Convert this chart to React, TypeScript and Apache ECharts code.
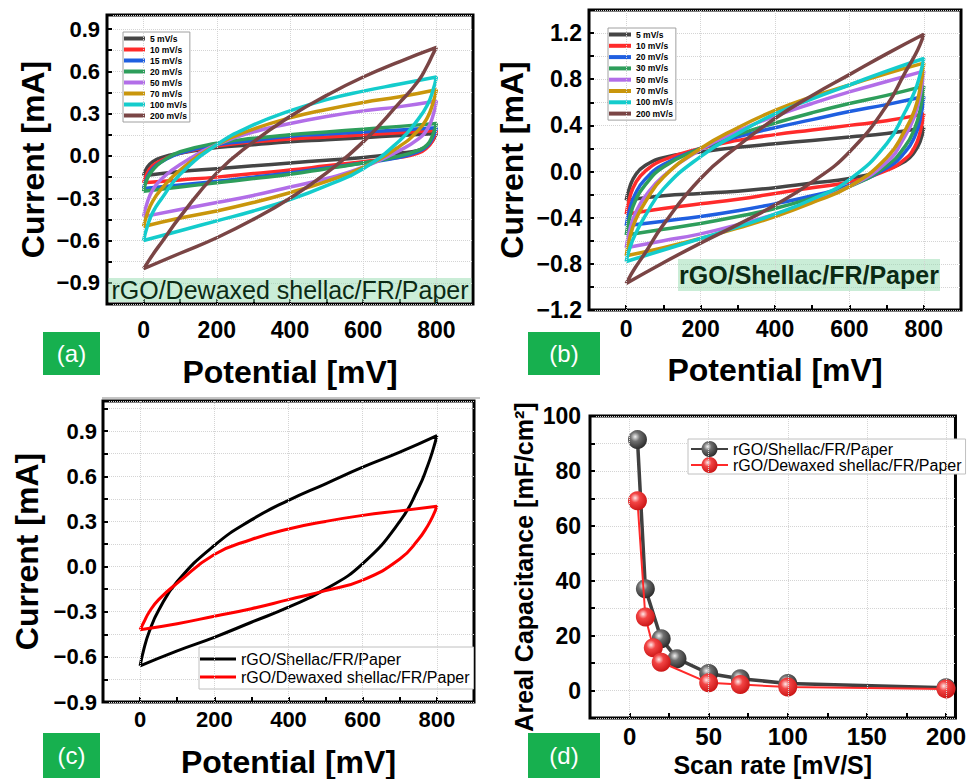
import React, { useEffect, useRef } from 'react';
import * as echarts from 'echarts';

const FONT = '"Liberation Sans", Arial, Helvetica, sans-serif';

// Potential grid for the forward (upper) and reverse (lower) branches of every CV loop [mV]
const X_UP = [0, 10, 25, 50, 100, 200, 300, 400, 500, 600, 700, 800];
const X_DOWN = [800, 790, 775, 750, 700, 600, 500, 400, 300, 200, 100, 0];

// Panel (a): rGO/Dewaxed shellac/FR/Paper
const RATES_A = ['5 mV/s', '10 mV/s', '15 mV/s', '20 mV/s', '50 mV/s', '70 mV/s', '100 mV/s', '200 mV/s'];
const COLORS_A = ['#454545', '#ff2b2b', '#1f5fe0', '#2e9e5b', '#b26ee8', '#c9960c', '#14cccc', '#7a4545'];
const A_UP: number[][] = [
  [-0.14, -0.08, -0.04, -0.01, 0.02, 0.06, 0.08, 0.10, 0.115, 0.13, 0.145, 0.16],
  [-0.19, -0.12, -0.07, -0.03, 0.02, 0.07, 0.10, 0.12, 0.135, 0.15, 0.165, 0.18],
  [-0.23, -0.15, -0.09, -0.04, 0.02, 0.08, 0.11, 0.14, 0.155, 0.17, 0.185, 0.20],
  [-0.25, -0.16, -0.10, -0.04, 0.03, 0.09, 0.125, 0.15, 0.17, 0.19, 0.21, 0.23],
  [-0.43, -0.33, -0.24, -0.16, -0.06, 0.08, 0.17, 0.23, 0.28, 0.32, 0.35, 0.39],
  [-0.50, -0.41, -0.32, -0.23, -0.10, 0.08, 0.19, 0.27, 0.33, 0.38, 0.42, 0.47],
  [-0.60, -0.50, -0.40, -0.30, -0.13, 0.08, 0.22, 0.32, 0.40, 0.46, 0.51, 0.56],
  [-0.80, -0.76, -0.70, -0.61, -0.43, -0.12, 0.10, 0.28, 0.43, 0.56, 0.67, 0.77],
];
const A_DOWN: number[][] = [
  [0.16, 0.11, 0.07, 0.04, 0.02, -0.01, -0.03, -0.05, -0.07, -0.09, -0.11, -0.14],
  [0.18, 0.11, 0.06, 0.02, -0.01, -0.04, -0.07, -0.10, -0.125, -0.15, -0.17, -0.19],
  [0.20, 0.13, 0.07, 0.03, -0.01, -0.05, -0.085, -0.12, -0.15, -0.18, -0.205, -0.23],
  [0.23, 0.15, 0.08, 0.04, 0.0, -0.05, -0.09, -0.13, -0.16, -0.19, -0.22, -0.25],
  [0.39, 0.28, 0.19, 0.12, 0.04, -0.08, -0.16, -0.22, -0.28, -0.33, -0.38, -0.43],
  [0.47, 0.37, 0.27, 0.18, 0.07, -0.08, -0.18, -0.26, -0.33, -0.39, -0.44, -0.50],
  [0.56, 0.46, 0.36, 0.26, 0.11, -0.09, -0.21, -0.31, -0.39, -0.46, -0.53, -0.60],
  [0.77, 0.72, 0.64, 0.53, 0.38, 0.10, -0.12, -0.30, -0.45, -0.58, -0.69, -0.80],
];

// Panel (b): rGO/Shellac/FR/Paper
const RATES_B = ['5 mV/s', '10 mV/s', '20 mV/s', '30 mV/s', '50 mV/s', '70 mV/s', '100 mV/s', '200 mV/s'];
const COLORS_B = ['#454545', '#ff2b2b', '#1f5fe0', '#2e9e5b', '#b26ee8', '#c9960c', '#14cccc', '#7a4545'];
const B_UP: number[][] = [
  [-0.25, -0.13, -0.03, 0.05, 0.12, 0.17, 0.21, 0.24, 0.27, 0.30, 0.33, 0.38],
  [-0.37, -0.22, -0.10, 0.0, 0.10, 0.20, 0.27, 0.32, 0.36, 0.40, 0.44, 0.50],
  [-0.47, -0.32, -0.19, -0.07, 0.06, 0.20, 0.30, 0.38, 0.45, 0.52, 0.58, 0.65],
  [-0.55, -0.39, -0.25, -0.12, 0.04, 0.20, 0.32, 0.42, 0.51, 0.59, 0.66, 0.74],
  [-0.66, -0.50, -0.36, -0.22, -0.04, 0.19, 0.35, 0.48, 0.59, 0.69, 0.78, 0.87],
  [-0.73, -0.57, -0.42, -0.27, -0.05, 0.20, 0.38, 0.53, 0.65, 0.75, 0.85, 0.94],
  [-0.78, -0.66, -0.54, -0.39, -0.15, 0.13, 0.33, 0.50, 0.63, 0.75, 0.87, 0.98],
  [-0.97, -0.91, -0.83, -0.71, -0.46, -0.06, 0.22, 0.46, 0.66, 0.84, 1.02, 1.19],
];
const B_DOWN: number[][] = [
  [0.38, 0.26, 0.17, 0.09, 0.02, -0.06, -0.10, -0.14, -0.17, -0.19, -0.21, -0.25],
  [0.50, 0.34, 0.21, 0.11, 0.01, -0.09, -0.14, -0.19, -0.24, -0.28, -0.32, -0.37],
  [0.65, 0.45, 0.30, 0.17, 0.03, -0.12, -0.21, -0.28, -0.34, -0.39, -0.43, -0.47],
  [0.74, 0.53, 0.37, 0.22, 0.05, -0.13, -0.23, -0.32, -0.39, -0.45, -0.50, -0.55],
  [0.87, 0.66, 0.48, 0.31, 0.08, -0.13, -0.26, -0.37, -0.46, -0.54, -0.60, -0.66],
  [0.94, 0.72, 0.53, 0.36, 0.12, -0.13, -0.27, -0.39, -0.49, -0.58, -0.66, -0.73],
  [0.98, 0.84, 0.69, 0.52, 0.24, -0.07, -0.24, -0.37, -0.48, -0.58, -0.68, -0.78],
  [1.19, 1.10, 1.00, 0.86, 0.57, 0.17, -0.09, -0.29, -0.46, -0.62, -0.79, -0.97],
];

// Panel (c): comparison at one scan rate
const NAMES_C = ['rGO/Shellac/FR/Paper', 'rGO/Dewaxed shellac/FR/Paper'];
const COLORS_C = ['#000000', '#ff0000'];
const C_UP: number[][] = [
  [-0.66, -0.55, -0.43, -0.29, -0.10, 0.14, 0.31, 0.44, 0.55, 0.66, 0.76, 0.87],
  [-0.42, -0.37, -0.30, -0.22, -0.11, 0.08, 0.18, 0.25, 0.30, 0.34, 0.37, 0.40],
];
const C_DOWN: number[][] = [
  [0.87, 0.78, 0.67, 0.52, 0.30, 0.02, -0.15, -0.27, -0.37, -0.47, -0.56, -0.66],
  [0.40, 0.34, 0.27, 0.18, 0.05, -0.09, -0.16, -0.22, -0.28, -0.33, -0.38, -0.42],
];

// Panel (d): areal capacitance vs scan rate
const D_RATE_SHELLAC = [5, 10, 20, 30, 50, 70, 100, 200];
const D_CAP_SHELLAC = [91.4, 37.1, 18.9, 11.6, 6.2, 4.3, 2.6, 1.0];
const D_RATE_DEWAXED = [5, 10, 15, 20, 50, 70, 100, 200];
const D_CAP_DEWAXED = [69.1, 26.8, 15.6, 10.3, 2.8, 2.2, 1.3, 0.6];

const X_MAJOR_CV = [0, 200, 400, 600, 800];
const X_MAJOR_D = [0, 50, 100, 150, 200];

const buildLoop = (up: number[], down: number[]) => [
  ...X_UP.map((x, i) => [x, up[i]]),
  ...X_DOWN.map((x, i) => [x, down[i]]),
];

const signed = (v: number, digits: number) => {
  const r = Math.round(v * 1000) / 1000;
  return (r === 0 ? 0 : r).toFixed(digits).replace('-', '\u2212');
};

const tickStyle = { show: true, inside: true, length: 5, lineStyle: { color: '#000', width: 2 } };
const splitY = { show: true, lineStyle: { color: '#d4d4d4', type: 'dotted', width: 1 } };

const makeXAxis = (gridIndex: number, min: number, max: number, interval: number, show: (v: number) => boolean, labelSize: number, margin: number, name: string, nameSize: number, nameGap: number) => ({
  type: 'value', gridIndex, min, max, interval, position: 'bottom',
  axisLine: { show: false, onZero: false },
  axisTick: tickStyle,
  splitLine: { show: false },
  axisLabel: {
    margin, fontSize: labelSize, fontWeight: 'bold', color: '#000', fontFamily: FONT,
    formatter: (v: number) => (show(v) ? String(Math.round(v)) : ''),
  },
  name, nameLocation: 'middle', nameGap, nameMoveOverlap: false,
  nameTextStyle: { fontSize: nameSize, fontWeight: 'bold', color: '#000', fontFamily: FONT },
});

const makeYAxis = (gridIndex: number, min: number, max: number, interval: number, fmt: (v: number) => string, labelSize: number, margin: number, name: string, nameSize: number, nameGap: number) => ({
  type: 'value', gridIndex, min, max, interval, position: 'left',
  axisLine: { show: false, onZero: false },
  axisTick: tickStyle,
  splitLine: splitY,
  axisLabel: { margin, fontSize: labelSize, fontWeight: 'bold', color: '#000', fontFamily: FONT, formatter: fmt },
  name, nameLocation: 'middle', nameGap, nameRotate: 90, nameMoveOverlap: false,
  nameTextStyle: { fontSize: nameSize, fontWeight: 'bold', color: '#000', fontFamily: FONT },
});

const gridLines = (idx: number, values: number[]) => ({
  type: 'line', name: 'grid' + idx, xAxisIndex: idx, yAxisIndex: idx, data: [[values[0], 0]],
  showSymbol: false, symbol: 'none', silent: true, z: 1, lineStyle: { opacity: 0 },
  markLine: {
    silent: true, symbol: 'none', label: { show: false }, animation: false,
    lineStyle: { color: '#d4d4d4', type: 'dotted', width: 1 },
    data: values.map((v) => ({ xAxis: v })),
  },
});

const sphere = (light: string, mid: string, dark: string) => ({
  type: 'radial', x: 0.38, y: 0.35, r: 0.7,
  colorStops: [
    { offset: 0, color: light },
    { offset: 0.35, color: mid },
    { offset: 1, color: dark },
  ],
});

const panelLabel = (x: number, y: number, w: number, h: number, text: string) => [
  { type: 'rect', shape: { x, y, width: w, height: h }, style: { fill: '#17b04f' }, z: 10, silent: true },
  { type: 'text', x: x + w / 2, y: y + h / 2, style: { text, fill: '#fff', font: `24px ${FONT}`, align: 'center', verticalAlign: 'middle' }, z: 11, silent: true },
];

function buildOption() {
  const suffixB = ' (b)';
  const suffixD = ' (d)';
  const series: any[] = [];

  series.push(gridLines(0, X_MAJOR_CV), gridLines(1, X_MAJOR_CV), gridLines(2, X_MAJOR_CV), gridLines(3, X_MAJOR_D));

  RATES_A.forEach((name, i) => {
    series.push({
      type: 'line', name, xAxisIndex: 0, yAxisIndex: 0, data: buildLoop(A_UP[i], A_DOWN[i]),
      showSymbol: false, symbol: 'none', smooth: 0.5, z: 3,
      lineStyle: { width: 3.5, color: COLORS_A[i] }, itemStyle: { color: COLORS_A[i] },
    });
  });
  RATES_B.forEach((name, i) => {
    series.push({
      type: 'line', name: name + suffixB, xAxisIndex: 1, yAxisIndex: 1, data: buildLoop(B_UP[i], B_DOWN[i]),
      showSymbol: false, symbol: 'none', smooth: 0.5, z: 3,
      lineStyle: { width: 3.5, color: COLORS_B[i] }, itemStyle: { color: COLORS_B[i] },
    });
  });
  NAMES_C.forEach((name, i) => {
    series.push({
      type: 'line', name, xAxisIndex: 2, yAxisIndex: 2, data: buildLoop(C_UP[i], C_DOWN[i]),
      showSymbol: false, symbol: 'none', smooth: 0.5, z: 3,
      lineStyle: { width: 3, color: COLORS_C[i] }, itemStyle: { color: COLORS_C[i] },
    });
  });
  series.push({
    type: 'line', name: NAMES_C[0] + suffixD, xAxisIndex: 3, yAxisIndex: 3,
    data: D_RATE_SHELLAC.map((x, i) => [x, D_CAP_SHELLAC[i]]),
    symbol: 'circle', symbolSize: 19, showSymbol: true, z: 3,
    lineStyle: { width: 3.5, color: '#404040' },
    itemStyle: { color: sphere('#f2f2f2', '#707070', '#262626') },
  });
  series.push({
    type: 'line', name: NAMES_C[1] + suffixD, xAxisIndex: 3, yAxisIndex: 3,
    data: D_RATE_DEWAXED.map((x, i) => [x, D_CAP_DEWAXED[i]]),
    symbol: 'circle', symbolSize: 19, showSymbol: true, z: 4,
    lineStyle: { width: 2, color: '#ff2a2a' },
    itemStyle: { color: sphere('#ffe8e8', '#f24444', '#c81212') },
  });

  const strip = (n: string) => n.replace(suffixB, '').replace(suffixD, '');
  const legendBase = { orient: 'vertical', selectedMode: false, backgroundColor: '#fff', borderWidth: 1, formatter: strip };

  const gridBase = { show: true, borderColor: '#000', borderWidth: 3, backgroundColor: 'transparent' };

  return {
    animation: false,
    backgroundColor: '#fff',
    textStyle: { fontFamily: FONT },
    grid: [
      { ...gridBase, left: 107, top: 15, width: 366, height: 289 },
      { ...gridBase, left: 589, top: 10, width: 372, height: 300 },
      { ...gridBase, left: 103, top: 401, width: 371, height: 301 },
      { ...gridBase, left: 590, top: 416, width: 370, height: 302 },
    ],
    xAxis: [
      makeXAxis(0, -100, 900, 100, (v) => Math.round(v) % 200 === 0 && v >= 0 && v <= 800, 23, 14, 'Potential [mV]', 32, 52),
      makeXAxis(1, -100, 900, 100, (v) => Math.round(v) % 200 === 0 && v >= 0 && v <= 800, 23, 7, 'Potential [mV]', 32, 44),
      makeXAxis(2, -100, 900, 100, (v) => Math.round(v) % 200 === 0 && v >= 0 && v <= 800, 22, 6, 'Potential [mV]', 32, 44),
      makeXAxis(3, -25, 206, 25, (v) => Math.round(v) % 50 === 0 && v >= 0 && v <= 200, 24, 6, 'Scan rate [mV/S]', 25, 34),
    ],
    yAxis: [
      makeYAxis(0, -1.05, 1.0, 0.15, (v) => (Math.round(v * 100) % 30 === 0 && Math.abs(v) < 0.91 ? signed(v, 1) : ''), 22, 7, 'Current [mA]', 32, 58),
      makeYAxis(1, -1.2, 1.4, 0.2, (v) => (Math.round(v * 10) % 4 === 0 && Math.abs(v) < 1.21 ? signed(v, 1) : ''), 23, 7, 'Current [mA]', 32, 61),
      makeYAxis(2, -0.9, 1.1, 0.15, (v) => (Math.round(v * 100) % 30 === 0 && Math.abs(v) < 0.91 ? signed(v, 1) : ''), 22, 6, 'Current [mA]', 32, 60),
      makeYAxis(3, -10, 100, 10, (v) => (Math.round(v) % 20 === 0 && v >= 0 && v <= 100 ? String(Math.round(v)) : ''), 23, 9, 'Areal Capacitance [mF/cm\u00b2]', 25, 54),
    ],
    legend: [
      {
        ...legendBase, left: 123, top: 32, data: RATES_A, icon: 'rect', itemWidth: 21, itemHeight: 4, itemGap: 2,
        padding: [2, 3, 2, 1], borderColor: '#a0a0a0',
        textStyle: { fontSize: 8.5, fontWeight: 'bold', color: '#000', fontFamily: FONT, lineHeight: 9 },
      },
      {
        ...legendBase, left: 608, top: 28, data: RATES_B.map((n) => n + suffixB), icon: 'rect', itemWidth: 22, itemHeight: 4, itemGap: 2.3,
        padding: [2, 3, 2, 1], borderColor: '#a0a0a0',
        textStyle: { fontSize: 8.5, fontWeight: 'bold', color: '#000', fontFamily: FONT, lineHeight: 9 },
      },
      {
        ...legendBase, left: 199, top: 647, data: NAMES_C, icon: 'rect', itemWidth: 36, itemHeight: 3, itemGap: 2,
        padding: [4, 4, 4, 1], borderColor: '#c0c0c0',
        textStyle: { fontSize: 16, color: '#000', fontFamily: FONT, lineHeight: 16 },
      },
      {
        ...legendBase, left: 688, top: 439, data: NAMES_C.map((n) => n + suffixD), itemWidth: 37, itemHeight: 20, itemGap: 0,
        padding: [2, 4, 1, 2], borderColor: '#c0c0c0',
        textStyle: { fontSize: 16, color: '#000', fontFamily: FONT, lineHeight: 16 },
      },
    ],
    graphic: [
      { type: 'rect', shape: { x: 108.5, y: 278, width: 363, height: 24 }, style: { fill: 'rgba(150,220,175,0.5)' }, z: 5, silent: true },
      { type: 'text', x: 290, y: 290, style: { text: 'rGO/Dewaxed shellac/FR/Paper', fill: '#0b2a14', font: `25px ${FONT}`, align: 'center', verticalAlign: 'middle' }, z: 6, silent: true },
      { type: 'rect', shape: { x: 678, y: 259, width: 262, height: 32 }, style: { fill: 'rgba(150,220,175,0.5)' }, z: 5, silent: true },
      { type: 'text', x: 809, y: 275, style: { text: 'rGO/Shellac/FR/Paper', fill: '#0b2a14', font: `bold 25px ${FONT}`, align: 'center', verticalAlign: 'middle' }, z: 6, silent: true },
      { type: 'line', shape: { x1: 102, y1: 398, x2: 480, y2: 398 }, style: { stroke: '#8a8a8a', lineWidth: 1 }, z: 5, silent: true },
      ...panelLabel(43, 332, 57, 43, '(a)'),
      ...panelLabel(528, 332, 72, 43, '(b)'),
      ...panelLabel(43, 733, 57, 45, '(c)'),
      ...panelLabel(528, 733, 72, 45, '(d)'),
    ],
    series,
  };
}

export default function App() {
  const ref = useRef<HTMLDivElement>(null);
  useEffect(() => {
    if (!ref.current) return;
    const chart = echarts.init(ref.current, null, { renderer: 'svg' });
    chart.setOption(buildOption() as any);
    return () => chart.dispose();
  }, []);
  return <div ref={ref} style={{ position: 'fixed', left: 0, top: 0, width: 969, height: 779, background: '#fff' }} />;
}
